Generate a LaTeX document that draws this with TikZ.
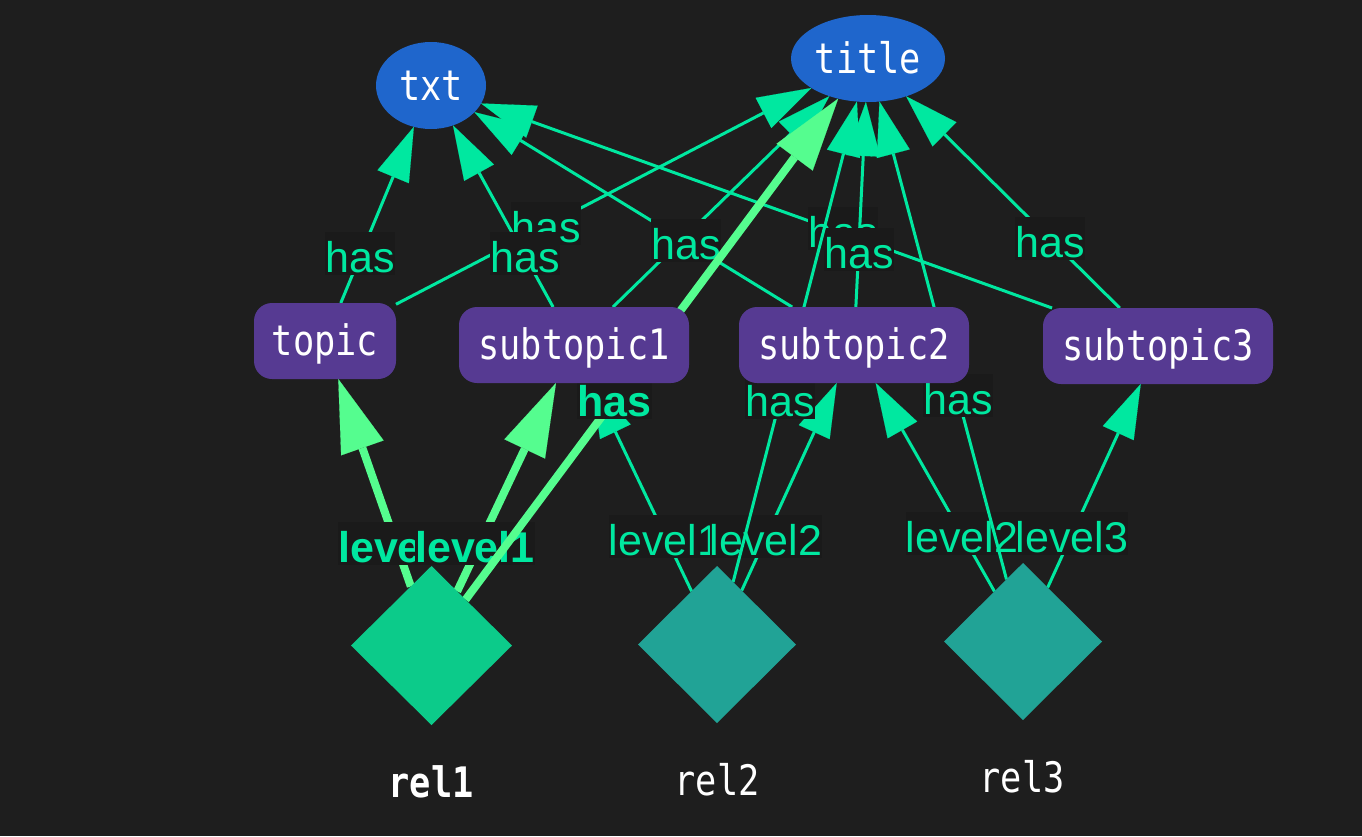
\documentclass[tikz,border=0pt]{standalone}
\usepackage{fontspec}
\usetikzlibrary{shapes.geometric,arrows.meta}
\newfontfamily\edgefont{Liberation Sans}
\newfontfamily\nodefont[FakeStretch=0.84]{DejaVu Sans Mono}
\definecolor{bgc}{HTML}{1E1E1E}
\definecolor{lblbg}{HTML}{1A1A1A}
\definecolor{ellc}{HTML}{1F66CC}
\definecolor{rectc}{HTML}{563A92}
\definecolor{diaA}{HTML}{0CCB8A}
\definecolor{diaB}{HTML}{21A396}
\definecolor{thinc}{HTML}{00E8A0}
\definecolor{thickc}{HTML}{55FD8F}
\pgfdeclarelayer{bglayer}
\pgfdeclarelayer{edgelayer}
\pgfsetlayers{bglayer,edgelayer,main}
\begin{document}
\begin{tikzpicture}[x=1pt,y=-1pt,
  ellnode/.style={ellipse,fill=ellc,text=white,font=\nodefont\fontsize{42}{42}\selectfont,inner sep=0pt,outer sep=0pt,text height=33pt,text depth=4pt,minimum height=87pt},
  boxnode/.style={rectangle,rounded corners=18pt,fill=rectc,text=white,font=\nodefont\fontsize{42}{42}\selectfont,inner sep=0pt,outer sep=0pt,text height=33pt,text depth=4pt,minimum height=76pt},
  dianode/.style={diamond,inner sep=0pt,outer sep=0pt},
  rellbl/.style={text=white,font=\nodefont\fontsize{42}{42}\selectfont,anchor=base,inner sep=0pt},
  elbl/.style={fill=lblbg,text=thinc,font=\edgefont\fontsize{43}{43}\selectfont,inner sep=0pt,text height=40pt,text depth=3pt,anchor=base},
  blbl/.style={elbl,font=\edgefont\bfseries\fontsize{43}{43}\selectfont},
  thinedge/.style={draw=thinc,line width=3pt,-{Triangle[length=54pt,width=34pt,line width=0.1pt]}},
  thickedge/.style={draw=thickc,line width=8pt,-{Triangle[length=73pt,width=45pt,line width=0.1pt]}},
]
\begin{pgfonlayer}{bglayer}
\fill[bgc] (0,0) rectangle (1362,836);
\end{pgfonlayer}
\useasboundingbox (0,0) rectangle (1362,836);

% nodes
\node[ellnode,minimum width=110pt] (txt) at (431,85.5) {txt};
\node[ellnode,minimum width=154pt] (title) at (868,58.5) {title};
\node[boxnode,minimum width=142pt] (topic) at (325,341) {topic};
\node[boxnode,minimum width=230pt] (sub1) at (574,345) {subtopic1};
\node[boxnode,minimum width=230pt] (sub2) at (854,345) {subtopic2};
\node[boxnode,minimum width=230pt] (sub3) at (1158,346) {subtopic3};
\node[dianode,fill=diaA,minimum width=161pt,minimum height=159pt] (rel1) at (431.5,645.5) {};
\node[dianode,fill=diaB,minimum width=158pt,minimum height=157pt] (rel2) at (717,644.5) {};
\node[dianode,fill=diaB,minimum width=158pt,minimum height=157pt] (rel3) at (1023,641.5) {};
\node[rellbl,font=\nodefont\bfseries\fontsize{42}{42}\selectfont] (rel1l) at (431,797) {rel1};
\node[rellbl] (rel2l) at (717,795) {rel2};
\node[rellbl] (rel3l) at (1022,792) {rel3};

\begin{pgfonlayer}{edgelayer}
\draw[thinedge] (topic) -- (txt);
\node[elbl] (e1) at (360,272) {has};
\draw[thinedge] (topic) -- (title);
\node[elbl] (e2) at (546,242) {has};
\draw[thinedge] (sub1) -- (txt);
\node[elbl] (e3) at (525,272) {has};
\draw[thinedge] (sub1) -- (title);
\node[elbl] (e4) at (686,259) {has};
\draw[thinedge] (sub3) -- (txt);
\node[elbl] (e5) at (843,247) {has};
\draw[thinedge] (sub2) -- (txt);
\node[elbl] (e6) at (686,259) {has};
\draw[thinedge] (sub2) -- (title);
\node[elbl] (e7) at (859,268) {has};
\draw[thinedge] (sub3) -- (title);
\node[elbl] (e8) at (1050,257) {has};
% rel2
\draw[thinedge] (rel2) -- (sub1);
\node[elbl] (e9) at (665,555) {level1};
\draw[thinedge] (rel2) -- (sub2);
\node[elbl] (e10) at (766,555) {level2};
\draw[thinedge] (rel2) -- (title);
\node[elbl] (e11) at (780,416) {has};
% rel3
\draw[thinedge] (rel3) -- (sub3);
\node[elbl] (e12) at (1072,552) {level3};
\draw[thinedge] (rel3) -- (sub2);
\node[elbl] (e13) at (962,552) {level2};
\draw[thinedge] (rel3) -- (title);
\node[elbl] (e14) at (958,414) {has};
% rel1
\draw[thickedge] (rel1) -- (topic);
\node[blbl] (e15) at (398,562) {level1};
\draw[thickedge] (rel1) -- (sub1);
\node[blbl] (e16) at (475,562) {level1};
\draw[thickedge] (rel1) -- (title);
\node[blbl] (e17) at (614.5,416) {has};
\end{pgfonlayer}
\end{tikzpicture}
\end{document}
